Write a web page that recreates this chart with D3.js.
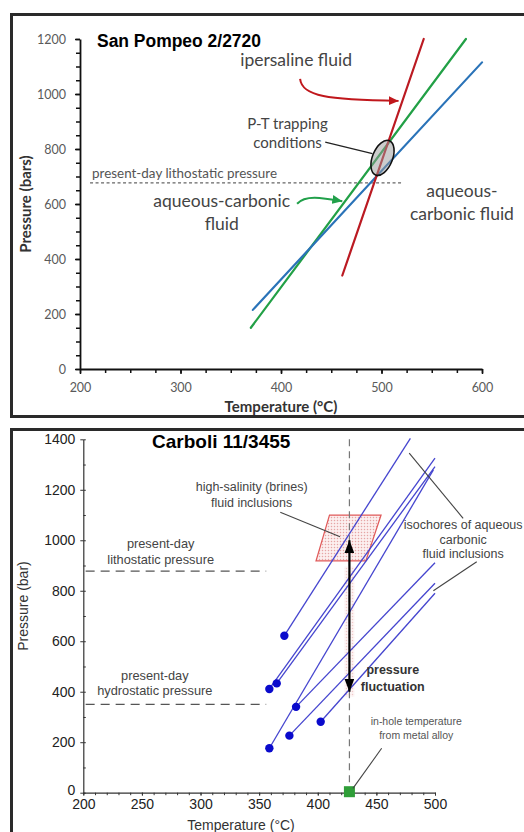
<!DOCTYPE html>
<html>
<head>
<meta charset="utf-8">
<script src="https://cdn.jsdelivr.net/npm/d3@7"></script>
<style>
  body { margin: 0; background: #fff; }
  svg { display: block; }
</style>
</head>
<body>
<div id="chart"></div>
<script>
// ---- San Pompeo 2/2720 (top panel) ----
const spXTicks = [200, 300, 400, 500, 600];
const spYTicks = [0, 200, 400, 600, 800, 1000, 1200];
const spRed = [[461, 340], [542, 1200]];     // ipersaline fluid isochore
const spGreen = [[370, 150], [584, 1200]];   // aqueous-carbonic isochore
const spBlue = [[372, 215], [600, 1115]];    // aqueous-carbonic isochore
const spLitho = 677;                          // present-day lithostatic pressure
const spLithoRange = [210, 520];
const spTrap = [501, 768];                    // P-T trapping conditions

// ---- Carboli 11/3455 (bottom panel) ----
const cbXTicks = [200, 250, 300, 350, 400, 450, 500];
const cbYTicks = [0, 200, 400, 600, 800, 1000, 1200, 1400];
const cbIsochores = [
  [[371.5, 622], [479, 1404]],
  [[358.7, 411], [500, 1325]],
  [[365, 433], [500, 1292]],
  [[381.5, 340], [500, 911]],
  [[358.7, 176], [498.6, 1279]],
  [[375.8, 226], [500, 830]],
  [[402.5, 281], [500, 790]]
];
const cbLitho = 878;
const cbHydro = 350;
const cbPresentRange = [202, 356];
const cbInHoleT = 427;
const cbBrines = [[410, 1100], [454, 1100], [441, 918], [398.5, 918]];
const cbFluct = [1000, 400];       // pressure fluctuation arrow
const cbBand = [896, 380];         // shaded band under the brines box

const W = 524, H = 832;
const svg = d3.select("#chart").append("svg").attr("width", W).attr("height", H);
const fmt = d3.format("d");

const defs = svg.append("defs");
const pat = defs.append("pattern").attr("id", "dots")
  .attr("width", 3).attr("height", 3).attr("patternUnits", "userSpaceOnUse");
pat.append("rect").attr("width", 3).attr("height", 3).attr("fill", "#fcefef");
pat.append("circle").attr("cx", 1.5).attr("cy", 1.5).attr("r", 0.75).attr("fill", "#e6a5a5");

function marker(id, color, w, l, orient) {
  defs.append("marker").attr("id", id)
    .attr("markerUnits", "userSpaceOnUse")
    .attr("viewBox", `0 -${w / 2} ${l} ${w}`)
    .attr("refX", l).attr("refY", 0)
    .attr("markerWidth", l).attr("markerHeight", w)
    .attr("orient", orient || "auto")
    .append("path").attr("d", `M0,-${w / 2}L${l},0L0,${w / 2}Z`).attr("fill", color);
}
marker("arrRed", "#c0171c", 9, 10);
marker("arrGreen", "#21a04a", 9, 10);
marker("arrBlack", "#000", 10, 13, "auto-start-reverse");

// frames
svg.append("rect").attr("x", 11.5).attr("y", 14.5).attr("width", 520).attr("height", 402)
  .attr("fill", "none").attr("stroke", "#2a2a2a").attr("stroke-width", 3);
svg.append("rect").attr("x", 11.5).attr("y", 429.5).attr("width", 520).attr("height", 420)
  .attr("fill", "none").attr("stroke", "#2a2a2a").attr("stroke-width", 3);

// =================== TOP PANEL ===================
const topG = svg.append("g");
const x1 = d3.scaleLinear().domain([200, 600]).range([80, 482]);
const y1 = d3.scaleLinear().domain([0, 1200]).range([369, 39]);
const calibri = "Lato, 'Open Sans', sans-serif";

// minor ticks
topG.append("g").attr("transform", `translate(0,${y1(0)})`)
  .call(d3.axisBottom(x1).tickValues(d3.range(200, 601, 25)).tickSize(4).tickFormat(""))
  .call(g => g.select(".domain").remove())
  .call(g => g.selectAll("line").attr("stroke", "#111").attr("stroke-width", 1.5));
topG.append("g").attr("transform", `translate(${x1(200)},0)`)
  .call(d3.axisLeft(y1).tickValues(d3.range(0, 1201, 50)).tickSize(4).tickFormat(""))
  .call(g => g.select(".domain").remove())
  .call(g => g.selectAll("line").attr("stroke", "#111").attr("stroke-width", 1.5));

const xa1 = topG.append("g").attr("transform", `translate(0,${y1(0)})`)
  .call(d3.axisBottom(x1).tickValues(spXTicks).tickFormat(fmt).tickSize(5).tickSizeOuter(0).tickPadding(9));
const ya1 = topG.append("g").attr("transform", `translate(${x1(200)},0)`)
  .call(d3.axisLeft(y1).tickValues(spYTicks).tickFormat(fmt).tickSize(5).tickSizeOuter(0).tickPadding(9));
[xa1, ya1].forEach(g => {
  g.select(".domain").attr("stroke", "#111").attr("stroke-width", 1.8);
  g.selectAll(".tick line").attr("stroke", "#111").attr("stroke-width", 1.5);
  g.selectAll("text").attr("font-family", calibri).attr("font-size", 12.5).attr("fill", "#5a5a5a");
});

topG.append("text").attr("x", 281).attr("y", 412).attr("text-anchor", "middle")
  .attr("font-family", calibri).attr("font-weight", "bold").attr("font-size", 15).attr("fill", "#333")
  .text("Temperature (°C)");
topG.append("text").attr("transform", "translate(31,204) rotate(-90)").attr("text-anchor", "middle")
  .attr("font-family", calibri).attr("font-weight", "bold").attr("font-size", 15).attr("fill", "#333")
  .text("Pressure (bars)");

topG.append("text").attr("x", 97).attr("y", 47)
  .attr("font-family", "'Liberation Sans', Arial, sans-serif").attr("font-weight", "bold")
  .attr("font-size", 17.5).attr("fill", "#000").attr("textLength", 164).attr("lengthAdjust", "spacingAndGlyphs")
  .text("San Pompeo 2/2720");

// lithostatic line
topG.append("line")
  .attr("x1", x1(spLithoRange[0])).attr("x2", x1(spLithoRange[1]))
  .attr("y1", y1(spLitho)).attr("y2", y1(spLitho))
  .attr("stroke", "#666").attr("stroke-width", 1.2).attr("stroke-dasharray", "3,2.5");
topG.append("text").attr("x", x1(212)).attr("y", y1(694))
  .attr("font-family", calibri).attr("font-size", 12.5).attr("fill", "#555")
  .attr("textLength", 185).attr("lengthAdjust", "spacingAndGlyphs")
  .text("present-day  lithostatic pressure");

const line1 = d3.line().x(d => x1(d[0])).y(d => y1(d[1]));
[[spGreen, "#22a046"], [spBlue, "#2a73b8"], [spRed, "#bb1a22"]].forEach(([d, c]) => {
  topG.append("path").attr("d", line1(d)).attr("fill", "none")
    .attr("stroke", c).attr("stroke-width", 2.2).attr("stroke-linecap", "round");
});

// trapping ellipse
topG.append("ellipse")
  .attr("transform", `translate(${x1(spTrap[0])},${y1(spTrap[1])}) rotate(22)`)
  .attr("rx", 10).attr("ry", 18.5)
  .attr("fill", "#9a9a9a").attr("fill-opacity", 0.5)
  .attr("stroke", "#111").attr("stroke-width", 1.6);

// annotations
topG.append("text").attr("x", x1(415)).attr("y", y1(1102)).attr("text-anchor", "middle")
  .attr("font-family", calibri).attr("font-size", 17.5).attr("fill", "#444").text("ipersaline fluid");
topG.append("path")
  .attr("d", `M${x1(419)},${y1(1055)} C${x1(421)},${y1(991)} ${x1(446)},${y1(980)} ${x1(517)},${y1(975)}`)
  .attr("fill", "none").attr("stroke", "#c0171c").attr("stroke-width", 2).attr("marker-end", "url(#arrRed)");

const pt = topG.append("text").attr("text-anchor", "middle")
  .attr("font-family", calibri).attr("font-size", 15).attr("fill", "#444");
pt.append("tspan").attr("x", x1(406.5)).attr("y", y1(873)).text("P-T trapping");
pt.append("tspan").attr("x", x1(406.5)).attr("y", y1(804)).text("conditions");
topG.append("line").attr("x1", x1(444)).attr("y1", y1(825)).attr("x2", x1(491)).attr("y2", y1(783))
  .attr("stroke", "#222").attr("stroke-width", 1.3);

const ac = topG.append("text").attr("text-anchor", "middle")
  .attr("font-family", calibri).attr("font-size", 17.5).attr("fill", "#444");
ac.append("tspan").attr("x", x1(341)).attr("y", y1(589)).text("aqueous-carbonic");
ac.append("tspan").attr("x", x1(341)).attr("y", y1(505)).text("fluid");
topG.append("path")
  .attr("d", `M${x1(416)},${y1(601)} C${x1(424)},${y1(634)} ${x1(440)},${y1(624)} ${x1(461)},${y1(610)}`)
  .attr("fill", "none").attr("stroke", "#21a04a").attr("stroke-width", 2).attr("marker-end", "url(#arrGreen)");

const ac2 = topG.append("text").attr("text-anchor", "middle")
  .attr("font-family", calibri).attr("font-size", 17.5).attr("fill", "#444");
ac2.append("tspan").attr("x", x1(580)).attr("y", y1(625)).text("aqueous-");
ac2.append("tspan").attr("x", x1(580)).attr("y", y1(542)).text("carbonic fluid");

// =================== BOTTOM PANEL ===================
const botG = svg.append("g");
const x2 = d3.scaleLinear().domain([200, 500]).range([83.3, 435]);
const y2 = d3.scaleLinear().domain([0, 1400]).range([792.7, 439.3]);
const arial = "'Liberation Sans', Arial, sans-serif";

botG.append("g").attr("transform", `translate(0,${y2(0)})`)
  .call(d3.axisBottom(x2).tickValues(d3.range(200, 501, 10)).tickSize(2.5).tickFormat(""))
  .call(g => g.select(".domain").remove())
  .call(g => g.selectAll("line").attr("stroke", "#333"));
botG.append("g").attr("transform", `translate(${x2(200)},0)`)
  .call(d3.axisRight(y2).tickValues(d3.range(0, 1401, 100)).tickSize(2.5).tickFormat(""))
  .call(g => g.select(".domain").remove())
  .call(g => g.selectAll("line").attr("stroke", "#333"));

const xa2 = botG.append("g").attr("transform", `translate(0,${y2(0)})`)
  .call(d3.axisBottom(x2).tickValues(cbXTicks).tickFormat(fmt).tickSize(3).tickSizeOuter(0).tickPadding(3));
const ya2 = botG.append("g").attr("transform", `translate(${x2(200)},0)`)
  .call(d3.axisLeft(y2).tickValues(cbYTicks).tickFormat(fmt).tickSize(3).tickSizeOuter(0).tickPadding(5));
[xa2, ya2].forEach(g => {
  g.select(".domain").attr("stroke", "#333").attr("stroke-width", 1.2);
  g.selectAll(".tick line").attr("stroke", "#333");
  g.selectAll("text").attr("font-family", arial).attr("font-size", 14).attr("fill", "#222");
});
// the zero label sits a little above the axis corner
ya2.selectAll(".tick").filter(d => d === 0).select("text").attr("dy", "0.1em");

botG.append("text").attr("x", 241).attr("y", 830).attr("text-anchor", "middle")
  .attr("font-family", arial).attr("font-size", 14).attr("fill", "#333").text("Temperature (°C)");
botG.append("text").attr("transform", "translate(28,606) rotate(-90)").attr("text-anchor", "middle")
  .attr("font-family", arial).attr("font-size", 14).attr("fill", "#333").text("Pressure (bar)");

botG.append("text").attr("x", 152).attr("y", 448)
  .attr("font-family", arial).attr("font-weight", "bold").attr("font-size", 19).attr("fill", "#000")
  .text("Carboli 11/3455");

// present-day pressures
[cbLitho, cbHydro].forEach(p => {
  botG.append("line").attr("x1", x2(cbPresentRange[0])).attr("x2", x2(cbPresentRange[1]))
    .attr("y1", y2(p)).attr("y2", y2(p))
    .attr("stroke", "#555").attr("stroke-width", 1.3).attr("stroke-dasharray", "9,6");
});
const lab = (lines, cx, size, color, weight) => {
  const t = botG.append("text").attr("text-anchor", "middle").attr("font-family", arial)
    .attr("font-size", size).attr("fill", color).attr("font-weight", weight || "normal");
  lines.forEach(([s, p]) => t.append("tspan").attr("x", x2(cx)).attr("y", y2(p)).text(s));
};
lab([["present-day", 969], ["lithostatic pressure", 906]], 266, 12.8, "#444");
lab([["present-day", 447], ["hydrostatic pressure", 387]], 261, 12.8, "#444");

// brines box and shaded band
botG.append("rect")
  .attr("x", x2(cbInHoleT) - 5).attr("width", 10)
  .attr("y", y2(cbBand[0])).attr("height", y2(cbBand[1]) - y2(cbBand[0]))
  .attr("fill", "url(#dots)").attr("opacity", 0.6);
botG.append("path").attr("d", d3.line().x(d => x2(d[0])).y(d => y2(d[1]))(cbBrines) + "Z")
  .attr("fill", "url(#dots)").attr("stroke", "#e05a5a").attr("stroke-width", 1.2);

// in-hole temperature vertical dashed line
botG.append("line").attr("x1", x2(cbInHoleT)).attr("x2", x2(cbInHoleT))
  .attr("y1", y2(1400)).attr("y2", y2(0))
  .attr("stroke", "#777").attr("stroke-width", 1.2).attr("stroke-dasharray", "7,5");

// isochores
const line2 = d3.line().x(d => x2(d[0])).y(d => y2(d[1]));
botG.append("g").selectAll("path").data(cbIsochores).join("path")
  .attr("d", d => line2(d)).attr("fill", "none").attr("stroke", "#4545cf").attr("stroke-width", 1.3);
botG.append("g").selectAll("circle").data(cbIsochores).join("circle")
  .attr("cx", d => x2(d[0][0])).attr("cy", d => y2(d[0][1])).attr("r", 4.2).attr("fill", "#0a0acc");

// pressure fluctuation arrow
botG.append("line").attr("x1", x2(cbInHoleT)).attr("x2", x2(cbInHoleT))
  .attr("y1", y2(cbFluct[0])).attr("y2", y2(cbFluct[1]))
  .attr("stroke", "#000").attr("stroke-width", 2.2)
  .attr("marker-start", "url(#arrBlack)").attr("marker-end", "url(#arrBlack)");

// green square
botG.append("rect").attr("x", x2(cbInHoleT) - 5.5).attr("y", y2(0) - 6.5)
  .attr("width", 11).attr("height", 11).attr("fill", "#2f9e38");

// annotations
lab([["high-salinity (brines)", 1195], ["fluid inclusions", 1133]], 343.6, 12.5, "#444");
botG.append("line").attr("x1", x2(368)).attr("y1", y2(1111)).attr("x2", x2(419)).attr("y2", y2(1014))
  .attr("stroke", "#444").attr("stroke-width", 1.1);

lab([["isochores of aqueous", 1043], ["carbonic", 984], ["fluid inclusions", 929]], 524, 12.5, "#444");
botG.append("line").attr("x1", x2(478)).attr("y1", y2(1345)).attr("x2", x2(524)).attr("y2", y2(1087))
  .attr("stroke", "#444").attr("stroke-width", 1.1);
botG.append("line").attr("x1", x2(535.6)).attr("y1", y2(915)).attr("x2", x2(498.6)).attr("y2", y2(800))
  .attr("stroke", "#444").attr("stroke-width", 1.1);

lab([["pressure", 469], ["fluctuation", 403]], 464, 12.5, "#333", "bold");

lab([["in-hole temperature", 268], ["from metal alloy", 213]], 484, 10.5, "#555");
botG.append("line").attr("x1", x2(454.5)).attr("y1", y2(176)).attr("x2", x2(430)).attr("y2", y2(17))
  .attr("stroke", "#444").attr("stroke-width", 1.1);
</script>
</body>
</html>
